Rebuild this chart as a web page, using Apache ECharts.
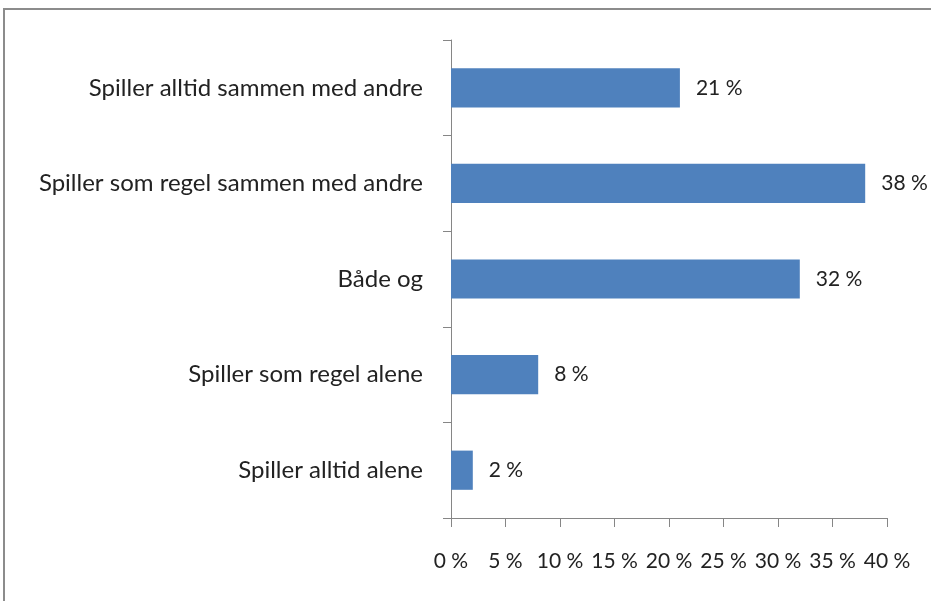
<!DOCTYPE html>
<html>
<head>
<meta charset="utf-8">
<script src="https://cdn.jsdelivr.net/npm/echarts@6/dist/echarts.min.js"></script>
<style>
  html, body { margin: 0; padding: 0; background: #fff; }
  #chart { width: 931px; height: 601px; }
</style>
</head>
<body>
<div id="chart"></div>
<script>
const categories = [
  'Spiller alltid sammen med andre',
  'Spiller som regel sammen med andre',
  'Både og',
  'Spiller som regel alene',
  'Spiller alltid alene'
]
const values = [21, 38, 32, 8, 2]
const xTicks = [0, 5, 10, 15, 20, 25, 30, 35, 40]

const font = 'Lato, "Open Sans", sans-serif'
const axisColor = '#868686'

const chart = echarts.init(document.getElementById('chart'))
chart.setOption({
  animation: false,
  graphic: [
    {
      type: 'rect',
      shape: { x: 4, y: 9, width: 1000, height: 1000 },
      style: { fill: 'none', stroke: '#8c8c8c', lineWidth: 2 },
      silent: true
    }
  ],
  grid: { left: 451, right: 44, top: 40, bottom: 83 },
  xAxis: {
    type: 'value',
    min: xTicks[0],
    max: xTicks[xTicks.length - 1],
    interval: 5,
    axisLine: { show: true, lineStyle: { color: axisColor, width: 1 } },
    axisTick: { show: true, length: 9, lineStyle: { color: axisColor } },
    splitLine: { show: false },
    axisLabel: {
      margin: 33,
      fontFamily: font,
      fontSize: 21,
      color: '#222',
      formatter: v => v + ' %'
    }
  },
  yAxis: {
    type: 'category',
    inverse: true,
    data: categories,
    axisLine: { show: true, lineStyle: { color: axisColor, width: 1 } },
    axisTick: { show: true, length: 8, lineStyle: { color: axisColor } },
    axisLabel: {
      margin: 28,
      fontFamily: font,
      fontSize: 24,
      color: '#222'
    }
  },
  series: [
    {
      type: 'bar',
      data: values,
      barWidth: '41%',
      itemStyle: { color: '#4f81bd' },
      label: {
        show: true,
        position: 'right',
        distance: 16,
        fontFamily: font,
        fontSize: 21,
        color: '#222',
        formatter: p => p.value + ' %'
      }
    }
  ]
})
</script>
</body>
</html>
